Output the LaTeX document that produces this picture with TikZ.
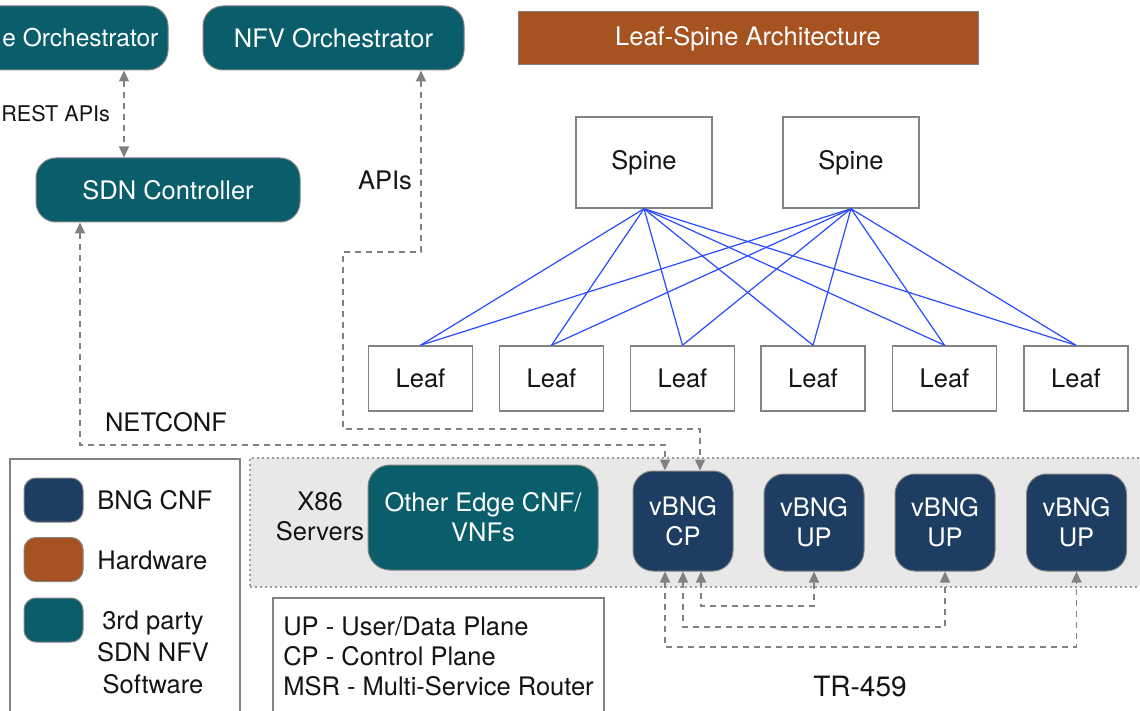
\documentclass[tikz,border=0pt]{standalone}
\usepackage{fontspec}
\setmainfont{TeX Gyre Heros}
\usetikzlibrary{arrows.meta,calc}
\definecolor{tealc}{RGB}{10,94,108}
\definecolor{bngc}{RGB}{29,61,99}
\definecolor{hwc}{RGB}{167,82,33}
\definecolor{bordc}{RGB}{130,130,130}
\definecolor{arrc}{RGB}{128,128,128}
\definecolor{bluec}{RGB}{40,75,255}
\definecolor{bandc}{RGB}{232,232,232}
\begin{document}
\begin{tikzpicture}[x=0.5pt,y=-0.5pt,
  every node/.style={font=\fontsize{12.75}{15}\selectfont, inner sep=0pt, text=black!92},
  tbox/.style={draw=bordc, line width=0.5pt, fill=tealc, text=white, rounded corners=10pt, align=center},
  bbox/.style={draw=bordc, line width=0.5pt, fill=bngc, text=white, rounded corners=10pt, align=center},
  wbox/.style={draw=bordc, line width=0.75pt, fill=white, minimum width=52pt, minimum height=32.5pt},
  swatch/.style={draw=bordc, line width=0.5pt, rounded corners=6pt, minimum width=29.5pt, minimum height=22pt},
  arr/.style={draw=arrc, line width=0.75pt, dash pattern=on 3pt off 2.5pt,
    {Triangle[length=5.5pt,width=5pt]}-{Triangle[length=5.5pt,width=5pt]}},
  bl/.style={draw=bluec, line width=0.6pt}
]
\clip (0,0) rectangle (1140,711);
\fill[white] (0,0) rectangle (1140,711);

% backgrounds
\node[draw=bordc!80, fill=bandc, line width=0.6pt, dash pattern=on 1pt off 1.5pt,
  minimum width=447.5pt, minimum height=64.5pt] (band) at (697.5,522.5) {};
\node[draw=bordc, line width=0.75pt, minimum width=115pt, minimum height=128pt] (legend) at (125,587) {};
\node[draw=bordc, line width=0.75pt, minimum width=165.5pt, minimum height=58.5pt, align=left] (defs) at (438.5,656.5)
  {UP - User/Data Plane\\CP - Control Plane\\MSR - Multi-Service Router};

% top
\node[tbox, minimum width=104pt, minimum height=32pt] (so) at (64,38) {};
\node[anchor=west, text=white, font=\fontsize{12.25}{15}\selectfont] (sotext) at (2,38) {e Orchestrator};
\node[tbox, minimum width=130.5pt, minimum height=32pt] (nfvo) at (333.5,38) {NFV Orchestrator};
\node[fill=hwc, draw=bordc, line width=0.5pt, text=white, minimum width=230pt, minimum height=26.5pt] (ls) at (748,38.5) {Leaf-Spine Architecture};
\node[tbox, minimum width=132pt, minimum height=32pt] (sdn) at (168,190) {SDN Controller};

\node[anchor=west, font=\fontsize{10.8}{13}\selectfont] (rest) at (1,114) {REST APIs};
\node (apis) at (385,180) {APIs};
\node (netconf) at (166,422) {NETCONF};

% spine / leaf
\node[wbox, minimum width=68pt, minimum height=45.5pt] (sp1) at (644,162.5) {Spine};
\node[wbox, minimum width=68pt, minimum height=45.5pt] (sp2) at (851,162.5) {Spine};
\node[wbox] (l1) at (420.5,378.5) {Leaf};
\node[wbox] (l2) at (551.5,378.5) {Leaf};
\node[wbox] (l3) at (682.5,378.5) {Leaf};
\node[wbox] (l4) at (813,378.5) {Leaf};
\node[wbox] (l5) at (944.5,378.5) {Leaf};
\node[wbox] (l6) at (1076,378.5) {Leaf};
\foreach \s in {sp1,sp2}{
  \foreach \l in {l1,l2,l3,l4,l5,l6}{
    \draw[bl] (\s.south) -- (\l.north);
  }
}

% servers row
\node[align=center] (x86) at (320,516) {X86\\Servers};
\node[tbox, rounded corners=11pt, minimum width=115pt, minimum height=52.5pt] (other) at (483,517.5) {Other Edge CNF/\\VNFs};
\node[bbox, minimum width=50pt, minimum height=50pt] (cp) at (683,521) {vBNG\\CP};
\node[bbox, minimum width=50pt, minimum height=48.5pt] (up1) at (814,522.5) {vBNG\\UP};
\node[bbox, minimum width=50pt, minimum height=48.5pt] (up2) at (945,522.5) {vBNG\\UP};
\node[bbox, minimum width=50pt, minimum height=48.5pt] (up3) at (1076.5,522.5) {vBNG\\UP};

% legend
\node[swatch, fill=bngc] (sw1) at (53.5,500) {};
\node[swatch, fill=hwc] (sw2) at (53.5,559.5) {};
\node[swatch, fill=tealc] (sw3) at (53.5,620) {};
\node[anchor=west] (lt1) at (97,500) {BNG CNF};
\node[anchor=west] (lt2) at (97,560) {Hardware};
\node[align=center, font=\fontsize{12.75}{16}\selectfont] (lt3) at (153,652) {3rd party\\SDN NFV\\Software};

\node[font=\fontsize{14}{16}\selectfont] (tr) at (860,686) {TR-459};

% connectors
\coordinate (x124) at (124,0);
\draw[arr] (so.south -| x124) -- (sdn.north -| x124);

\coordinate (n1) at (421,252);
\coordinate (n2) at (343,429);
\coordinate (n3) at (700,0);
\draw[arr] (nfvo.south -| n1) -- (n1) -| (n2) -| (cp.north -| n3);

\coordinate (s1) at (80,445);
\coordinate (s2) at (665,0);
\draw[arr] (sdn.south -| s1) -- (s1) -| (cp.north -| s2);

\coordinate (b1) at (701,606);
\coordinate (b2) at (683,627);
\coordinate (b3) at (665,647);
\draw[arr] (cp.south -| b1) -- (b1) -| (up1.south);
\draw[arr] (cp.south -| b2) -- (b2) -| (up2.south);
\draw[arr] (cp.south -| b3) -- (b3) -| (up3.south);
\end{tikzpicture}
\end{document}
